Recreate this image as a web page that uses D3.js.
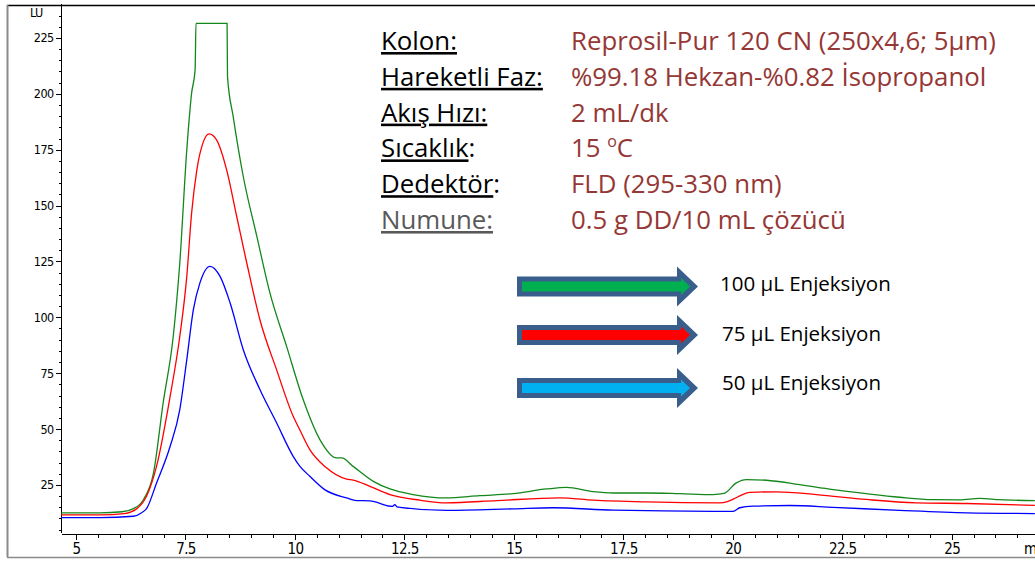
<!DOCTYPE html>
<html>
<head>
<meta charset="utf-8">
<script src="https://cdn.jsdelivr.net/npm/d3@7"></script>
<style>
  html, body { margin: 0; padding: 0; background: #fff; }
  svg { display: block; }
  .axis text { font-family: 'Liberation Sans Narrow', 'DejaVu Sans Condensed', 'Liberation Sans', sans-serif; fill: #000; }
  .axis path, .axis line { stroke: #000; shape-rendering: crispEdges; }
</style>
</head>
<body>
<svg id="chart" width="1035" height="561"></svg>
<script>
// Chromatogram traces: [retention time (min), signal (LU)]
const inj100 = [
  [4.66,12.5],[5.55,12.5],[6.05,13.0],[6.31,14.4],[6.54,18.4],[6.77,30.4],[6.99,61.7],
  [7.22,91.4],[7.37,124.3],[7.53,174.9],[7.64,200.3],[7.72,210.7],[7.74,231.5],
  [8.45,231.5],[8.46,207.7],[8.59,189.8],[8.82,163.0],[9.13,136.2],[9.43,110.8],
  [9.81,87.0],[10.19,63.1],[10.57,45.3],[10.95,37.1],[11.07,37.1],[11.33,33.3],
  [11.79,26.6],[12.17,23.2],[12.70,20.7],[13.46,19.2],[14.22,20.2],[14.98,21.1],
  [15.75,23.2],[16.20,23.9],[16.81,22.0],[17.27,21.4],[18.03,21.4],[18.79,21.1],
  [19.55,20.7],[19.80,21.2],[20.08,25.9],[20.31,27.4],[20.77,27.1],[21.53,25.1],
  [22.29,22.9],[23.05,21.1],[23.81,19.5],[24.57,18.4],[25.18,18.3],[25.64,19.0],
  [26.10,18.4],[26.90,18.0]
];
const inj75 = [
  [4.66,11.6],[5.55,11.6],[6.10,12.2],[6.39,14.4],[6.61,19.9],[6.84,33.4],[7.15,64.7],
  [7.37,91.4],[7.53,118.3],[7.64,146.6],[7.76,166.0],[7.91,178.6],[8.04,182.1],
  [8.21,179.4],[8.44,166.0],[8.67,145.1],[8.90,124.3],[9.20,98.9],[9.58,76.6],
  [9.96,55.7],[10.11,49.7],[10.34,40.8],[10.70,33.0],[11.18,27.6],[11.33,27.2],
  [11.71,24.4],[12.17,20.7],[12.85,18.2],[13.46,17.0],[14.61,18.0],[16.05,19.2],
  [16.81,18.2],[18.03,17.4],[19.70,17.0],[19.86,17.4],[20.10,19.5],[20.39,21.7],
  [21.00,21.9],[21.91,20.7],[23.05,18.5],[24.19,17.0],[25.34,16.7],[26.90,15.9]
];
const inj50 = [
  [4.66,10.4],[5.55,10.4],[6.31,11.0],[6.50,12.6],[6.61,14.4],[6.84,25.9],[7.15,42.3],
  [7.37,58.7],[7.53,81.1],[7.68,103.4],[7.83,115.4],[8.06,122.8],[8.29,118.3],
  [8.52,106.4],[8.82,85.5],[9.20,67.7],[9.58,52.8],[9.96,37.8],[10.11,33.4],
  [10.34,28.9],[10.68,22.9],[11.18,19.2],[11.41,18.0],[11.71,17.9],[12.17,15.5],
  [12.23,15.4],[12.28,16.2],[12.33,15.2],[12.40,15.0],[13.46,13.6],[14.98,14.3],
  [15.90,14.8],[17.27,13.7],[19.55,13.2],[20.01,13.2],[20.16,14.8],[20.46,15.5],
  [21.30,15.8],[22.29,15.0],[23.81,13.6],[25.34,12.5],[26.90,12.2]
];

const seriesData = [inj100, inj75, inj50];
const seriesColors = ["#14871b", "#ff0000", "#0000ff"];

// Legend (injection volumes)
const legendLabels = ["100 µL Enjeksiyon", "75 µL Enjeksiyon", "50 µL Enjeksiyon"];
const legendFills = ["#00b050", "#ff0000", "#00b0f0"];

// Method conditions
const infoLabels = [["Kolon:", ""], ["Hareketli Faz:", ""], ["Akış Hızı:", ""],
                    ["Sıcaklık", ":"], ["Dedektör", ":"], ["Numune:", ""]];
const infoValues = ["Reprosil-Pur 120 CN (250x4,6; 5µm)", "%99.18 Hekzan-%0.82 İsopropanol",
                    "2 mL/dk", "15 ^oC", "FLD (295-330 nm)", "0.5 g DD/10 mL çözücü"];

// Axis ticks
const xMajorTicks = [5, 7.5, 10, 12.5, 15, 17.5, 20, 22.5, 25];
const xMinorTicks = d3.range(5, 27, 0.5);
const yMajorTicks = [25, 50, 75, 100, 125, 150, 175, 200, 225];
const yMinorTicks = d3.range(5, 240, 5);
const xUnit = "min";
const yUnit = "LU";

const svg = d3.select("#chart");
const W = 1035, H = 561;
const tickFont = "'Liberation Sans Narrow','DejaVu Sans Condensed',sans-serif";

const x = d3.scaleLinear().domain([4.657, 26.903]).range([61, 1035]);
const y = d3.scaleLinear().domain([3.5, 240]).range([533, 4.4]);

// outer frame
svg.append("line").attr("x1", 7).attr("x2", W).attr("y1", 5.5).attr("y2", 5.5)
  .attr("stroke", "#000").attr("stroke-width", 1.5);
svg.append("line").attr("x1", 7.5).attr("x2", 7.5).attr("y1", 5).attr("y2", 557)
  .attr("stroke", "#8a8a8a").attr("stroke-width", 2);
svg.append("line").attr("x1", 7).attr("x2", W).attr("y1", 557.5).attr("y2", 557.5)
  .attr("stroke", "#8a8a8a").attr("stroke-width", 1.5);

// y axis
const yMinor = svg.append("g").attr("class", "axis").attr("transform", "translate(61.5,0)")
  .call(d3.axisLeft(y).tickValues(yMinorTicks).tickSize(3).tickFormat(""));
yMinor.select(".domain").remove();
const yMajor = svg.append("g").attr("class", "axis").attr("transform", "translate(61.5,0)")
  .call(d3.axisLeft(y).tickValues(yMajorTicks).tickSize(6).tickSizeOuter(0)
    .tickPadding(2).tickFormat(d => String(d)));
yMajor.selectAll("text").style("font-size", "12.5px").attr("letter-spacing", "-0.6");
yMajor.select(".domain").attr("d", `M0,${y(3.5)}V${y(240)}`);

// x axis
const xMinor = svg.append("g").attr("class", "axis").attr("transform", "translate(0,533.5)")
  .call(d3.axisBottom(x).tickValues(xMinorTicks).tickSize(4).tickFormat(""));
xMinor.select(".domain").remove();
const xMajor = svg.append("g").attr("class", "axis").attr("transform", "translate(0,533.5)")
  .call(d3.axisBottom(x).tickValues(xMajorTicks).tickSize(6).tickSizeOuter(0)
    .tickPadding(4).tickFormat(d => String(d)));
xMajor.selectAll("text").style("font-size", "15px").attr("letter-spacing", "-0.6");

svg.append("text").attr("x", 1024).attr("y", 554)
  .style("font-family", tickFont).style("font-size", "15px").text(xUnit);
svg.append("text").attr("x", 30).attr("y", 17)
  .style("font-family", tickFont).style("font-size", "12.5px")
  .attr("letter-spacing", "-0.6").text(yUnit);

// traces
const line = d3.line().x(d => x(d[0])).y(d => y(d[1])).curve(d3.curveMonotoneX);
svg.append("defs").append("clipPath").attr("id", "plotClip")
  .append("rect").attr("x", 61).attr("y", 0).attr("width", W - 61).attr("height", 533);
const traces = svg.append("g").attr("clip-path", "url(#plotClip)");
seriesData.forEach((s, i) => {
  traces.append("path").datum(s).attr("d", line)
    .attr("fill", "none").attr("stroke", seriesColors[i]).attr("stroke-width", 1.3);
});

// method conditions
const info = svg.append("g").style("font-family", "'Open Sans', sans-serif").style("font-size", "25.8px");
infoLabels.forEach((lab, i) => {
  const by = 50 + i * 35.8;
  const t = info.append("text").attr("x", 381).attr("y", by)
    .attr("fill", i === infoLabels.length - 1 ? "#595959" : "#000");
  t.append("tspan").style("text-decoration", "underline").text(lab[0]);
  if (lab[1]) t.append("tspan").text(lab[1]);
  const v = info.append("text").attr("x", 571).attr("y", by).attr("fill", "#953735");
  infoValues[i].split("^").forEach((part, k) => {
    if (k === 0) { v.append("tspan").text(part); return; }
    v.append("tspan").attr("dy", -10).style("font-size", "16px").text(part[0]);
    v.append("tspan").attr("dy", 10).text(part.slice(1));
  });
});

// legend arrows
const arrowCenters = [286.5, 335, 388];
const legendTextY = [283, 333, 382];
const legend = svg.append("g");
legendLabels.forEach((lab, i) => {
  const c = arrowCenters[i];
  const outer = [[517, c - 10], [677, c - 10], [677, c - 20], [698, c], [677, c + 20], [677, c + 10], [517, c + 10]];
  const inner = [[522, c - 5], [681, c - 5], [681, c - 8.5], [690, c], [681, c + 8.5], [681, c + 5], [522, c + 5]];
  legend.append("polygon").attr("points", outer.join(" ")).attr("fill", "#3a5e8c");
  legend.append("polygon").attr("points", inner.join(" ")).attr("fill", legendFills[i]);
  legend.append("text").attr("x", i === 0 ? 720 : 722).attr("y", legendTextY[i])
    .attr("dominant-baseline", "central")
    .style("font-family", "'Open Sans', sans-serif").style("font-size", "20.5px")
    .attr("fill", "#000").text(lab);
});
</script>
</body>
</html>
